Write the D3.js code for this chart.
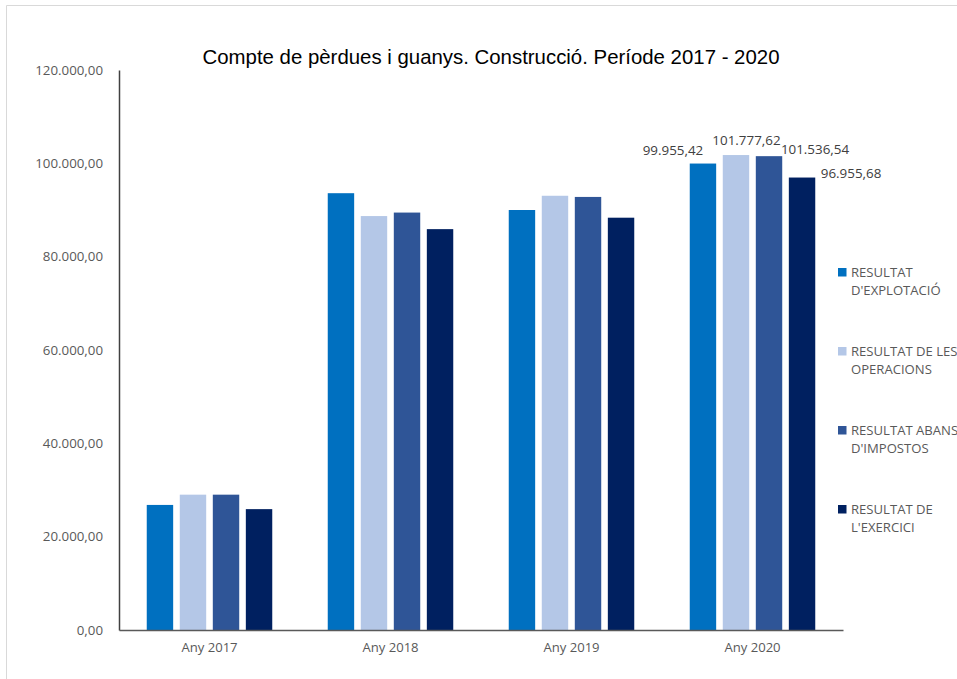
<!DOCTYPE html>
<html>
<head>
<meta charset="utf-8">
<script src="https://cdn.jsdelivr.net/npm/d3@7"></script>
<style>
  html, body { margin: 0; padding: 0; background: #fff; overflow: hidden; }
  svg { display: block; }
</style>
</head>
<body>
<div id="chart"></div>
<script>
const title = "Compte de pèrdues i guanys. Construcció. Període 2017 - 2020";
const categories = ["Any 2017", "Any 2018", "Any 2019", "Any 2020"];
const seriesNames = [
  ["RESULTAT", "D'EXPLOTACIÓ"],
  ["RESULTAT DE LES", "OPERACIONS"],
  ["RESULTAT ABANS", "D'IMPOSTOS"],
  ["RESULTAT DE", "L'EXERCICI"]
];
const explotacio = [26800, 93600, 90000, 99955.42];
const operacions = [29000, 88700, 93050, 101777.62];
const abansImpostos = [29000, 89450, 92800, 101536.54];
const exercici = [25900, 85900, 88350, 96955.68];
const seriesValues = [explotacio, operacions, abansImpostos, exercici];
const colors = ["#0070C0", "#B4C7E7", "#2F5597", "#002060"];
const yTicks = [0, 20000, 40000, 60000, 80000, 100000, 120000];
// data labels shown only for last category
const labelledCategory = 3;

const W = 957, H = 679;
const margin = { left: 119, right: 114, top: 70, bottom: 49 };

const fmt = v => {
  const parts = v.toFixed(2).split(".");
  parts[0] = parts[0].replace(/\B(?=(\d{3})+(?!\d))/g, ".");
  return parts[0] + "," + parts[1];
};

const svg = d3.select("#chart").append("svg").attr("width", W).attr("height", H);

// outer frame (partially visible)
svg.append("path").attr("d", `M6.5,${H} V5.5 H${W}`)
  .attr("fill", "none").attr("stroke", "#d9d9d9").attr("stroke-width", 1);

const x0 = d3.scaleBand().domain(categories)
  .range([margin.left, W - margin.right]).paddingInner(0).paddingOuter(0);
const x1 = d3.scaleBand().domain(d3.range(seriesNames.length))
  .range([0, x0.bandwidth()]).paddingInner(0.2).paddingOuter(0.84);
const y = d3.scaleLinear().domain([0, 120000]).range([H - margin.bottom, margin.top]);

// title
svg.append("text").attr("x", 491).attr("y", 64).attr("text-anchor", "middle")
  .attr("font-family", "Liberation Sans, Arial, sans-serif").attr("font-size", 20.4)
  .attr("fill", "#000").text(title);

// bars
const groups = svg.append("g").selectAll("g").data(categories).join("g")
  .attr("transform", d => `translate(${x0(d)},0)`);
groups.selectAll("rect")
  .data((c, ci) => seriesValues.map((vals, si) => ({ si, v: vals[ci] })))
  .join("rect")
  .attr("x", d => x1(d.si))
  .attr("width", x1.bandwidth())
  .attr("y", d => y(d.v))
  .attr("height", d => y(0) - y(d.v))
  .attr("fill", d => colors[d.si]);

// y axis
const yAxis = d3.axisLeft(y).tickValues(yTicks).tickFormat(fmt).tickSize(0).tickPadding(16);
const gy = svg.append("g").attr("transform", `translate(${margin.left},0)`).call(yAxis);
gy.select(".domain").attr("stroke", "#404040").attr("stroke-width", 1.5);
gy.selectAll("text").attr("font-family", "Open Sans, sans-serif").attr("font-size", 13.3)
  .attr("fill", "#595959");

// x axis
const xAxis = d3.axisBottom(x0).tickSize(0).tickPadding(13);
const gx = svg.append("g").attr("transform", `translate(0,${y(0)})`).call(xAxis);
gx.select(".domain").attr("stroke", "#595959").attr("stroke-width", 1.5);
gx.selectAll("text").attr("font-family", "Open Sans, sans-serif").attr("font-size", 13.1)
  .attr("fill", "#595959");

// data labels (manually placed as in the original)
const labelOffsets = [[-30, -8.5], [10.5, -10], [46, -2], [49, 0]];
seriesValues.forEach((vals, si) => {
  const v = vals[labelledCategory];
  const cx = x0(categories[labelledCategory]) + x1(si) + x1.bandwidth() / 2;
  svg.append("text")
    .attr("x", cx + labelOffsets[si][0])
    .attr("y", y(v) + labelOffsets[si][1])
    .attr("text-anchor", "middle")
    .attr("font-family", "Open Sans, sans-serif").attr("font-size", 13.4)
    .attr("fill", "#404040").text(fmt(v));
});

// legend
const legend = svg.append("g").attr("transform", "translate(838,268)");
seriesNames.forEach((lines, i) => {
  const g = legend.append("g").attr("transform", `translate(0,${i * 79})`);
  g.append("rect").attr("width", 8.5).attr("height", 8.5).attr("fill", colors[i]);
  lines.forEach((t, li) => {
    g.append("text").attr("x", 13).attr("y", 9 + li * 18)
      .attr("font-family", "Open Sans, sans-serif").attr("font-size", 13.1)
      .attr("fill", "#595959").text(t);
  });
});
</script>
</body>
</html>
